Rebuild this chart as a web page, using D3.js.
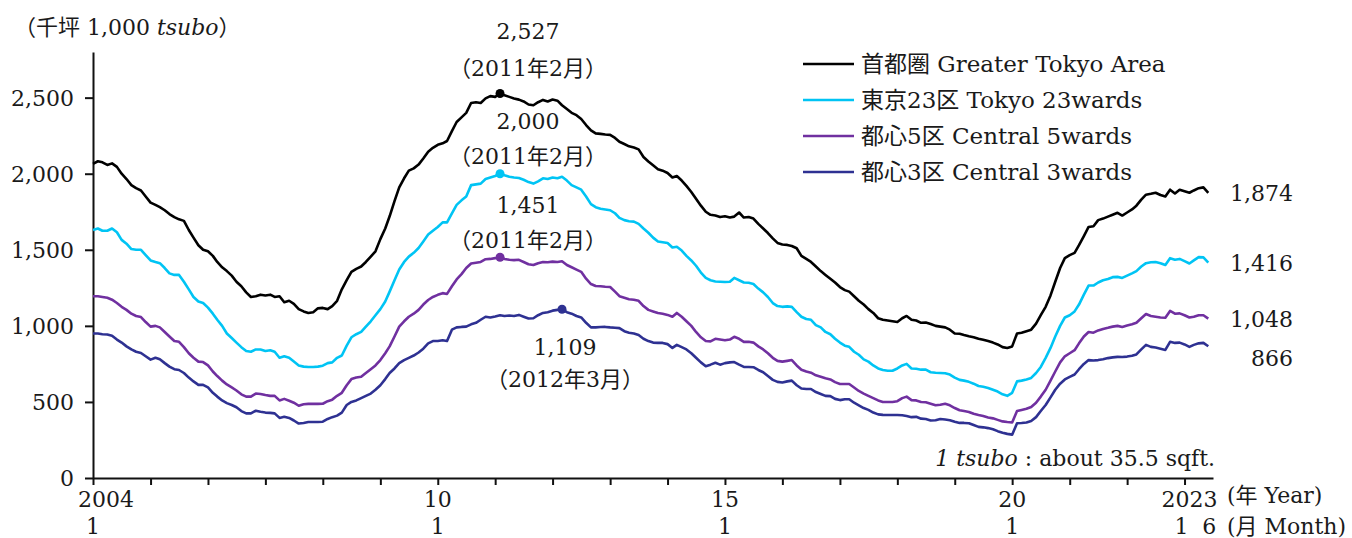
<!DOCTYPE html>
<html>
<head>
<meta charset="utf-8">
<script src="https://cdn.jsdelivr.net/npm/d3@7"></script>
<style>
  body { margin: 0; background: #fff; }
  svg text { font-family: "DejaVu Serif", "Noto Sans CJK JP", serif; fill: #1a1a1a; }
</style>
</head>
<body>
<svg id="chart" width="1352" height="538"></svg>
<script>
// monthly values, 2004/1 .. 2023/6 (1,000 tsubo)
const greaterTokyo = [
  2065,2082,2075,2058,2068,2045,2000,1965,1925,1905,1890,1850,
  1810,1795,1780,1760,1735,1715,1700,1690,1630,1580,1530,1500,
  1490,1460,1420,1385,1360,1330,1290,1260,1220,1190,1195,1205,
  1200,1205,1190,1195,1155,1165,1145,1110,1095,1085,1090,1115,
  1118,1110,1130,1165,1240,1300,1355,1375,1390,1420,1455,1490,
  1570,1640,1720,1820,1910,1970,2020,2035,2060,2100,2145,2170,
  2190,2200,2215,2280,2340,2370,2400,2465,2470,2465,2495,2510,
  2505,2527,2515,2505,2495,2487,2475,2455,2450,2470,2485,2475,
  2488,2480,2450,2425,2400,2385,2360,2320,2285,2265,2262,2258,
  2255,2235,2210,2195,2180,2172,2160,2110,2080,2055,2030,2020,
  2005,1975,1985,1955,1920,1880,1835,1790,1750,1730,1725,1715,
  1720,1712,1718,1745,1712,1715,1705,1670,1640,1610,1575,1545,
  1535,1532,1525,1510,1460,1440,1420,1390,1360,1335,1310,1285,
  1255,1235,1225,1195,1165,1140,1110,1085,1050,1040,1035,1030,
  1025,1050,1065,1040,1035,1020,1022,1012,1000,995,990,975,
  950,948,940,932,925,915,908,900,890,878,860,855,
  865,950,955,965,975,1015,1070,1125,1200,1290,1380,1445,
  1465,1480,1530,1590,1650,1655,1695,1705,1718,1730,1743,1725,
  1745,1765,1790,1830,1862,1868,1875,1860,1850,1895,1870,1895,
  1885,1875,1890,1905,1910,1874
];
const tokyo23 = [
  1630,1640,1625,1625,1640,1615,1565,1540,1505,1500,1500,1465,
  1430,1420,1412,1380,1345,1335,1335,1290,1240,1190,1160,1150,
  1120,1080,1040,1000,950,920,890,860,835,830,845,845,
  835,840,830,790,800,790,765,740,732,730,730,732,
  738,755,760,790,805,870,925,945,960,995,1030,1070,
  1110,1160,1225,1300,1370,1420,1455,1480,1512,1555,1600,1625,
  1650,1680,1680,1740,1795,1825,1850,1925,1930,1935,1965,1975,
  1985,2000,1990,1980,1975,1972,1960,1945,1935,1950,1970,1965,
  1975,1970,1980,1955,1925,1910,1895,1850,1800,1780,1770,1765,
  1760,1740,1710,1695,1688,1685,1670,1640,1612,1580,1555,1550,
  1545,1515,1520,1495,1460,1430,1395,1350,1315,1300,1292,1290,
  1288,1290,1315,1300,1285,1283,1275,1245,1220,1190,1150,1130,
  1125,1128,1125,1090,1060,1045,1040,1005,990,960,945,915,
  890,870,862,830,810,780,765,740,720,710,705,705,
  720,740,750,720,718,712,712,695,692,690,688,680,
  660,645,640,632,620,605,600,592,580,568,550,540,
  560,635,640,648,658,690,730,790,855,930,1000,1055,
  1070,1095,1140,1205,1265,1265,1285,1300,1308,1320,1322,1315,
  1330,1345,1360,1390,1412,1418,1420,1412,1400,1445,1435,1440,
  1425,1410,1430,1452,1450,1416
];
const central5 = [
  1195,1195,1190,1185,1172,1150,1125,1105,1080,1065,1058,1025,
  995,1000,990,960,930,900,895,860,820,790,765,762,
  740,700,670,640,615,595,575,550,535,535,555,552,
  545,540,540,510,520,508,495,475,485,487,487,487,
  488,505,515,540,560,610,650,660,665,690,715,740,
  775,820,865,930,995,1030,1060,1080,1105,1140,1170,1190,
  1204,1215,1210,1260,1305,1340,1380,1410,1415,1420,1438,1440,
  1445,1451,1440,1435,1432,1434,1420,1405,1400,1412,1420,1418,
  1422,1420,1425,1400,1385,1370,1355,1310,1275,1262,1260,1257,
  1255,1225,1195,1185,1175,1172,1165,1130,1105,1095,1085,1080,
  1072,1060,1085,1060,1030,1000,960,925,900,898,915,910,
  905,910,928,915,895,895,890,865,845,820,790,770,
  765,770,775,740,712,700,692,675,665,655,648,630,
  618,618,618,595,572,555,540,525,510,500,500,500,
  505,525,535,512,510,500,498,488,478,482,488,478,
  460,445,440,434,422,414,408,398,392,382,372,368,
  365,440,447,455,467,495,535,580,640,700,760,800,
  820,840,885,930,960,955,970,980,987,995,1000,993,
  1002,1010,1020,1050,1078,1065,1060,1055,1053,1098,1080,1082,
  1070,1055,1060,1070,1070,1048
];
const central3 = [
  950,950,945,943,935,910,890,865,845,830,822,800,
  778,790,780,755,732,715,710,690,660,635,612,612,
  595,560,535,510,492,480,465,440,425,425,442,435,
  430,428,425,395,402,395,378,358,362,368,368,368,
  370,388,400,410,430,480,500,510,525,540,555,580,
  610,650,690,720,755,775,790,805,825,850,885,900,
  900,905,900,975,990,993,995,1010,1020,1040,1060,1055,
  1062,1070,1065,1068,1065,1072,1060,1048,1050,1070,1085,1090,
  1100,1105,1109,1090,1080,1065,1055,1020,990,990,992,993,
  990,988,985,965,955,950,940,915,900,890,888,888,
  880,855,875,860,845,820,790,760,735,745,757,745,
  755,760,762,745,730,730,728,710,695,670,645,632,
  628,635,640,610,588,585,585,565,552,540,538,520,
  512,518,518,495,478,460,448,430,418,415,414,414,
  414,412,408,400,402,390,388,378,380,388,384,380,
  370,362,362,360,348,336,333,328,320,308,298,290,
  285,360,362,365,375,400,440,480,530,580,620,648,
  665,680,715,750,775,772,775,780,788,793,796,795,
  798,803,812,845,875,862,858,850,842,895,888,890,
  878,862,875,885,888,866
];

const seriesNames = ["首都圏 Greater Tokyo Area", "東京23区 Tokyo 23wards", "都心5区 Central 5wards", "都心3区 Central 3wards"];
const seriesColors = ["#000000", "#00c4f4", "#7030a0", "#2e3192"];
const seriesValues = [greaterTokyo, tokyo23, central5, central3];
const peakDates = ["2011年2月", "2011年2月", "2011年2月", "2012年3月"];

const yTicks = [0, 500, 1000, 1500, 2000, 2500];
const yearTicks = d3.range(2004, 2024);
const yearLabels = [[2004, "2004"], [2010, "10"], [2015, "15"], [2020, "20"], [2023, "2023"]];

const dates = d3.range(greaterTokyo.length).map(i => new Date(2004, i, 1));

const svg = d3.select("#chart");
const x = d3.scaleTime()
  .domain([new Date(2004, 0, 1), new Date(2023, 6, 1)])
  .range([93, 1213]);
const y = d3.scaleLinear()
  .domain([0, 2800])
  .range([478, 52]);

// axes
const yAxis = svg.append("g")
  .attr("transform", "translate(93,0)")
  .call(d3.axisLeft(y).tickValues(yTicks).tickFormat(d3.format(",")).tickSize(8).tickSizeOuter(0).tickPadding(11));
yAxis.selectAll("text").style("font-size", "22px").attr("dy", "0.36em");

const xAxis = svg.append("g")
  .attr("transform", "translate(0,478)")
  .call(d3.axisBottom(x).tickValues(yearTicks.map(yr => new Date(yr, 0, 1))).tickFormat("").tickSize(7).tickSizeOuter(0));

svg.selectAll(".domain, .tick line").attr("stroke", "#111").attr("stroke-width", 2);

// x labels (year row, month row)
const labelRow = svg.append("g").style("font-size", "22px").attr("text-anchor", "middle");
yearLabels.forEach(([yr, txt]) => {
  const shift = yr === 2004 ? 13 : (yr === 2023 ? 5 : 0);
  labelRow.append("text").attr("x", x(new Date(yr, 0, 1)) + shift).attr("y", 507).text(txt);
  if (yr !== 2023) labelRow.append("text").attr("x", x(new Date(yr, 0, 1))).attr("y", 534).text("1");
});
labelRow.append("text").attr("x", x(new Date(2023, 0, 1)) - 3).attr("y", 534).text("1");
labelRow.append("text").attr("x", x(new Date(2023, 5, 1)) + 1).attr("y", 534).text("6");
labelRow.append("text").attr("x", 1227).attr("y", 503).attr("text-anchor", "start").text("(年 Year)");
labelRow.append("text").attr("x", 1227).attr("y", 534).attr("text-anchor", "start").text("(月 Month)");

// unit label
const unit = svg.append("text").attr("x", 14).attr("y", 35).style("font-size", "22px");
unit.append("tspan").text("（千坪 1,000 ");
unit.append("tspan").style("font-style", "italic").text("tsubo");
unit.append("tspan").text("）");

// lines
const line = d3.line()
  .x((d, i) => x(dates[i]))
  .y(d => y(d));

seriesValues.forEach((vals, k) => {
  svg.append("path")
    .datum(vals)
    .attr("fill", "none")
    .attr("stroke", seriesColors[k])
    .attr("stroke-width", 2.6)
    .attr("stroke-linejoin", "round")
    .attr("d", line);
});

// peaks
const peakOffsets = [[28, -55, -18], [28, -45, -10], [28, -44, -9], [3, 46, 78]];
seriesValues.forEach((vals, k) => {
  const i = d3.maxIndex(vals);
  const px = x(dates[i]), py = y(vals[i]);
  svg.append("circle").attr("cx", px).attr("cy", py).attr("r", 4.5).attr("fill", seriesColors[k]);
  const [dx, dy1, dy2] = peakOffsets[k];
  svg.append("text").attr("x", px + dx).attr("y", py + dy1).attr("text-anchor", "middle")
    .style("font-size", "22px").text(d3.format(",")(vals[i]));
  svg.append("text").attr("x", px + dx).attr("y", py + dy2).attr("text-anchor", "middle")
    .style("font-size", "22px").text("（" + peakDates[k] + "）");
});

// last values
const lastShift = [8, 8, 8, 20];
seriesValues.forEach((vals, k) => {
  const v = vals[vals.length - 1];
  svg.append("text").attr("x", 1293).attr("y", y(v) + lastShift[k]).attr("text-anchor", "end")
    .style("font-size", "22px").text(d3.format(",")(v));
});

// legend
const legend = svg.append("g").attr("transform", "translate(803,64)");
seriesNames.forEach((name, k) => {
  const g = legend.append("g").attr("transform", `translate(0,${k * 36})`);
  g.append("line").attr("x1", 0).attr("x2", 51).attr("stroke", seriesColors[k]).attr("stroke-width", 2.6);
  g.append("text").attr("x", 58).attr("y", 8).style("font-size", "23px").text(name);
});

// note
const note = svg.append("text").attr("x", 1215).attr("y", 466).attr("text-anchor", "end").style("font-size", "22px");
note.append("tspan").style("font-style", "italic").text("1 tsubo");
note.append("tspan").text(" : about 35.5 sqft.");
</script>
</body>
</html>
